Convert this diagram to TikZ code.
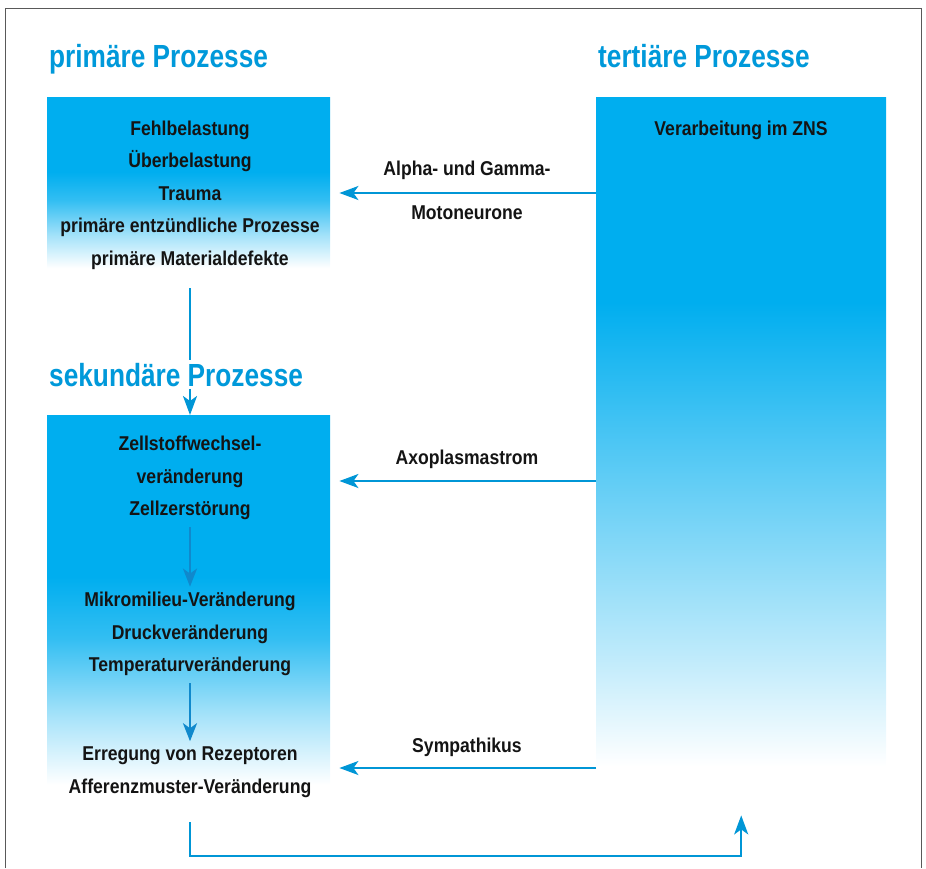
\documentclass[tikz,border=0pt]{standalone}
\usepackage{fontspec}
\setmainfont{Liberation Sans}[FakeStretch=0.88]
\newfontfamily\titlefont{Liberation Sans}[FakeStretch=0.82]
\usepackage{xcolor}
\usetikzlibrary{arrows.meta}
\definecolor{titleblue}{HTML}{0099DA}
\definecolor{boxcyan}{HTML}{00AEEF}
\definecolor{linecolor}{HTML}{0096D6}
\definecolor{innerblue}{HTML}{1089CC}
% shadings: only 25bp..75bp is seen on the box
\pgfdeclareverticalshading{fadeshort}{100bp}{color(0bp)=(white); color(27bp)=(white); color(36bp)=(boxcyan!35); color(46bp)=(boxcyan!80); color(54bp)=(boxcyan); color(100bp)=(boxcyan)}
\pgfdeclareverticalshading{fadelong}{100bp}{color(0bp)=(white); color(26bp)=(white); color(34bp)=(boxcyan!25); color(48bp)=(boxcyan!65); color(60bp)=(boxcyan); color(100bp)=(boxcyan)}
\tikzset{
  procbox/.style={rectangle, draw=none, shade, anchor=north west, inner sep=0pt},
  headline/.style={font=\titlefont\fontsize{32}{36}\selectfont\bfseries, text=titleblue, anchor=base west, inner sep=3pt},
  lbl/.style={font=\fontsize{20}{32.5}\selectfont\bfseries, text=black!92, align=center},
  conn/.style={color=linecolor, line width=2.2pt, -{Stealth[length=19pt,width=14pt,inset=5pt]}},
  innerarr/.style={color=innerblue, line width=2.8pt, -{Stealth[length=18pt,width=14pt,inset=5pt]}}
}
\begin{document}
\begin{tikzpicture}[x=1pt,y=-1pt]
\useasboundingbox (0,0) rectangle (926,868);
\draw[gray!70!black, line width=1pt] (5,868) |- (921,8) -- (921,868);

% boxes
\node[procbox, shading=fadeshort, minimum width=283, minimum height=178] (prim) at (47,97) {};
\node[procbox, shading=fadeshort, minimum width=283, minimum height=385] (sek) at (47,415) {};
\node[procbox, shading=fadelong, minimum width=290, minimum height=683] (tert) at (596,97) {};

\node[headline] (primtitle) at (46,67) {primäre Prozesse};
\node[headline] (terttitle) at (595,67) {tertiäre Prozesse};

% texts in the boxes
\node[lbl] (primtext) at (190,195) {Fehlbelastung\\Überbelastung\\Trauma\\primäre entzündliche Prozesse\\primäre Materialdefekte};
\node[lbl] (terttext) at (741,130) {Verarbeitung im ZNS};
\node[lbl] (sek1) at (190,478) {Zellstoffwechsel-\\veränderung\\Zellzerstörung};
\node[lbl] (sek2) at (190,634) {Mikromilieu-Veränderung\\Druckveränderung\\Temperaturveränderung};
\node[lbl] (sek3) at (190,772) {Erregung von Rezeptoren\\Afferenzmuster-Veränderung};

% labels of the back paths
\node[lbl] (alpha) at (467,170) {Alpha- und Gamma-};
\node[lbl] (moto) at (467,213) {Motoneurone};
\node[lbl] (axo) at (467,459) {Axoplasmastrom};
\node[lbl] (sympa) at (467,747) {Sympathikus};
\coordinate (alphaarr) at (467,193);
\coordinate (axoarr) at (467,481);
\coordinate (sympaarr) at (467,768);
\coordinate (retstart) at (190,822);
\coordinate (retbase) at (0,856);

\draw[conn, shorten >=9pt] (tert.west |- alphaarr) -- (prim.east |- alphaarr);
\draw[conn, shorten >=9pt] (tert.west |- axoarr) -- (sek.east |- axoarr);
\draw[conn, shorten >=9pt] (tert.west |- sympaarr) -- (sek.east |- sympaarr);

\draw[conn, shorten <=13pt] (prim.south -| primtext) -- (sek.north -| primtext);
\draw[innerarr, shorten <=4pt, shorten >=2pt] (sek1) -- (sek2);
\draw[innerarr, shorten <=4pt, shorten >=2pt] (sek2) -- (sek3);
\draw[conn, shorten >=35pt] (retstart) -- (retstart |- retbase) -| (tert.south);

% title over the arrow
\node[headline, fill=white] (sektitle) at (46,386) {sekundäre Prozesse};
\end{tikzpicture}
\end{document}
